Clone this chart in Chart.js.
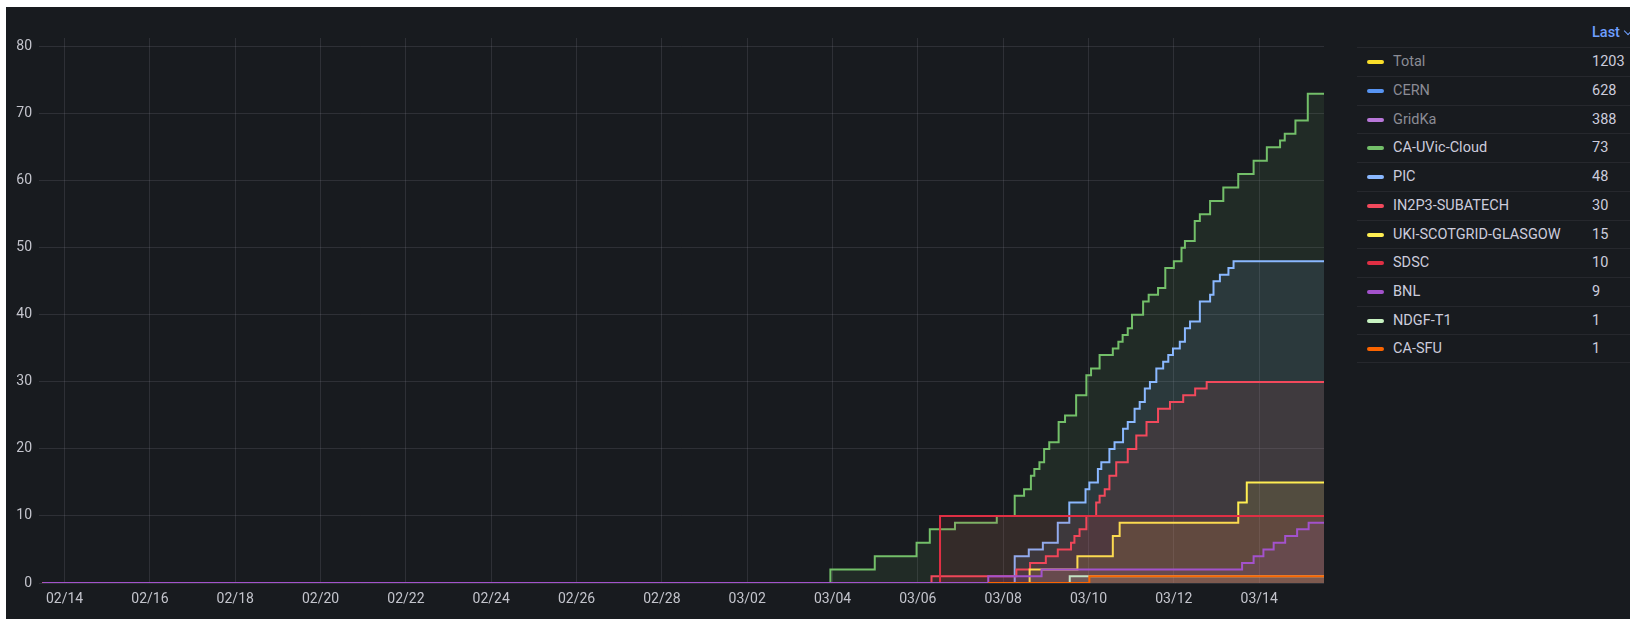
<!DOCTYPE html>
<html>
<head>
<meta charset="utf-8">
<script src="https://cdn.jsdelivr.net/npm/chart.js@4.4.1/dist/chart.umd.min.js"></script>
<style>
html,body{margin:0;padding:0;background:#ffffff;width:1630px;height:619px;overflow:hidden;font-family:Roboto,"Noto Sans",sans-serif;}
#panel{position:absolute;left:6px;top:7px;right:0;bottom:0;background:#181b1f;}
#c{position:absolute;left:0;top:0;}
#legend{position:absolute;left:1357px;top:0;width:273px;height:619px;font-size:14.5px;}
.hdr{position:absolute;left:235px;top:23px;line-height:20px;color:#6e9fff;font-weight:500;white-space:nowrap;}
.chev{display:inline-block;width:5px;height:5px;border-right:1.5px solid #6e9fff;border-bottom:1.5px solid #6e9fff;transform:rotate(45deg);margin-left:5px;position:relative;top:-3px;}
.row{position:absolute;left:0;width:273px;height:28.7px;border-top:1px solid rgba(204,204,220,0.08);box-sizing:border-box;}
.row.last{border-bottom:1px solid rgba(204,204,220,0.08);}
.sw{position:absolute;left:10px;top:12px;width:17px;height:4px;border-radius:2px;}
.nm{position:absolute;left:36px;top:0;line-height:27px;color:#ccccdc;white-space:nowrap;}
.nm.off{color:#8b8c95;}
.val{position:absolute;left:235px;top:0;line-height:27px;color:#ccccdc;white-space:nowrap;}
</style>
</head>
<body>
<div id="panel"></div>
<canvas id="c" width="1330" height="619"></canvas>
<div id="legend"></div>
<script>
// ---- axis ticks (x values are days since 02/14 00:00) ----
const xTickDays   = [0, 2, 4, 6, 8, 10, 12, 14, 16, 18, 20, 22, 24, 26, 28];
const xTickLabels = ['02/14','02/16','02/18','02/20','02/22','02/24','02/26','02/28','03/02','03/04','03/06','03/08','03/10','03/12','03/14'];
const yTickValues = [0, 10, 20, 30, 40, 50, 60, 70, 80];
const xRange = [-0.6, 29.52];
const yRange = [0, 81.3];

// ---- hidden series (legend only) ----
const hiddenNames = ['Total', 'CERN', 'GridKa'];
const hiddenLast  = [1203, 628, 388];

// ---- visible series: step change times (days) and values ----
const uvicT = [-0.52, 17.95, 18.99, 19.97, 20.28, 20.87, 21.85, 22.27, 22.49, 22.65, 22.73, 22.85, 22.96, 23.08, 23.3, 23.45, 23.71, 23.95, 24.06, 24.26, 24.57, 24.7, 24.8, 24.92, 25.02, 25.28, 25.41, 25.63, 25.8, 26.0, 26.18, 26.26, 26.49, 26.61, 26.85, 27.16, 27.51, 27.87, 28.18, 28.49, 28.6, 28.85, 29.14, 29.52];
const uvicV = [0, 2, 4, 6, 8, 9, 10, 13, 14, 16, 17, 18, 20, 21, 24, 25, 28, 31, 32, 34, 35, 36, 37, 38, 40, 42, 43, 44, 47, 48, 50, 51, 54, 55, 57, 59, 61, 63, 65, 66, 67, 69, 73, 73];

const picT = [-0.52, 22.27, 22.6, 22.93, 23.28, 23.55, 23.93, 24.02, 24.22, 24.3, 24.49, 24.61, 24.81, 24.92, 25.08, 25.2, 25.32, 25.44, 25.59, 25.75, 25.87, 25.98, 26.14, 26.26, 26.38, 26.61, 26.85, 26.93, 27.08, 27.28, 27.4, 29.52];
const picV = [0, 4, 5, 6, 9, 12, 14, 15, 17, 18, 20, 21, 23, 24, 26, 27, 29, 30, 32, 33, 34, 35, 36, 38, 39, 42, 43, 45, 46, 47, 48, 48];

const in2p3T = [-0.52, 20.32, 22.31, 22.63, 23.0, 23.28, 23.59, 23.67, 23.79, 23.95, 24.18, 24.26, 24.38, 24.49, 24.65, 24.92, 25.12, 25.36, 25.63, 25.91, 26.22, 26.5, 26.77, 29.52];
const in2p3V = [0, 1, 2, 3, 4, 5, 6, 7, 8, 10, 12, 13, 14, 16, 18, 20, 22, 24, 26, 27, 28, 29, 30, 30];

const ukiT = [-0.52, 22.62, 23.74, 24.57, 24.73, 27.51, 27.71, 29.52];
const ukiV = [0, 2, 4, 7, 9, 12, 15, 15];

const sdscT = [-0.52, 20.52, 29.52];
const sdscV = [0, 10, 10];

const bnlT = [-0.52, 21.65, 22.9, 27.6, 27.87, 28.1, 28.34, 28.61, 28.89, 29.16, 29.52];
const bnlV = [0, 1, 2, 3, 4, 5, 6, 7, 8, 9, 9];

const ndgfT = [21.65, 23.56, 29.52];
const ndgfV = [0, 1, 1];

const sfuT = [21.65, 24.02, 29.52];
const sfuV = [0, 1, 1];

// ---- styles ----
const series = [
  {name:'CA-UVic-Cloud',        t:uvicT,  v:uvicV,  color:'#73BF69', order:7},
  {name:'PIC',                  t:picT,   v:picV,   color:'#8AB8FF', order:6},
  {name:'IN2P3-SUBATECH',       t:in2p3T, v:in2p3V, color:'#F2495C', order:5},
  {name:'UKI-SCOTGRID-GLASGOW', t:ukiT,   v:ukiV,   color:'#FFEE52', order:4},
  {name:'SDSC',                 t:sdscT,  v:sdscV,  color:'#E02F44', order:3},
  {name:'BNL',                  t:bnlT,   v:bnlV,   color:'#A352CC', order:1},
  {name:'NDGF-T1',              t:ndgfT,  v:ndgfV,  color:'#C8F2C2', order:2},
  {name:'CA-SFU',               t:sfuT,   v:sfuV,   color:'#FA6400', order:0}
];
const hiddenColors = ['#FADE2A', '#5794F2', '#B877D9'];

function rgba(hex, a){
  const n = parseInt(hex.slice(1), 16);
  return 'rgba(' + ((n>>16)&255) + ',' + ((n>>8)&255) + ',' + (n&255) + ',' + a + ')';
}
function pts(t, v){ return t.map((d, i) => ({x: d, y: v[i]})); }

const tickColor = '#c3c4cc';
const gridColor = 'rgba(204,204,220,0.12)';
const tickFont = {family: 'Roboto', size: 14};

new Chart(document.getElementById('c'), {
  type: 'line',
  data: {
    datasets: series.map(s => ({
      label: s.name,
      data: pts(s.t, s.v),
      borderColor: s.color,
      backgroundColor: rgba(s.color, 0.1),
      borderWidth: 2,
      fill: 'origin',
      stepped: 'before',
      pointRadius: 0,
      pointHoverRadius: 0,
      order: s.order
    }))
  },
  options: {
    responsive: false,
    animation: false,
    events: [],
    layout: {padding: {top: 38, right: 6, bottom: 0, left: 0}},
    plugins: {legend: {display: false}, tooltip: {enabled: false}},
    scales: {
      x: {
        type: 'linear',
        min: xRange[0], max: xRange[1],
        afterBuildTicks: s => { s.ticks = xTickDays.map(v => ({value: v})); },
        afterFit: s => { s.height = 36; },
        ticks: {
          callback: (v, i) => xTickLabels[i],
          color: tickColor, font: tickFont, padding: 8,
          maxRotation: 0, autoSkip: false
        },
        grid: {color: gridColor, drawTicks: false, lineWidth: 1},
        border: {display: false}
      },
      y: {
        min: yRange[0], max: yRange[1],
        afterBuildTicks: s => { s.ticks = yTickValues.map(v => ({value: v})); },
        afterFit: s => { s.width = 39; },
        ticks: {color: tickColor, font: tickFont, padding: 7},
        grid: {color: gridColor, drawTicks: false, lineWidth: 1},
        border: {display: false}
      }
    }
  }
});

// ---- legend table ----
const legend = document.getElementById('legend');
const hdr = document.createElement('div');
hdr.className = 'hdr';
hdr.innerHTML = 'Last<span class="chev"></span>';
legend.appendChild(hdr);

const rows = [];
hiddenNames.forEach((n, i) => rows.push({name: n, last: hiddenLast[i], color: hiddenColors[i], off: true}));
series.forEach(s => rows.push({name: s.name, last: s.v[s.v.length - 1], color: s.color, off: false}));

const rowTop = 47.3, rowH = 28.7;
rows.forEach((r, i) => {
  const row = document.createElement('div');
  row.className = 'row' + (i === rows.length - 1 ? ' last' : '');
  row.style.top = (rowTop + i * rowH) + 'px';
  const sw = document.createElement('div');
  sw.className = 'sw';
  sw.style.background = r.color;
  const nm = document.createElement('div');
  nm.className = 'nm' + (r.off ? ' off' : '');
  nm.textContent = r.name;
  const val = document.createElement('div');
  val.className = 'val';
  val.textContent = r.last;
  row.appendChild(sw); row.appendChild(nm); row.appendChild(val);
  legend.appendChild(row);
});
</script>
</body>
</html>
